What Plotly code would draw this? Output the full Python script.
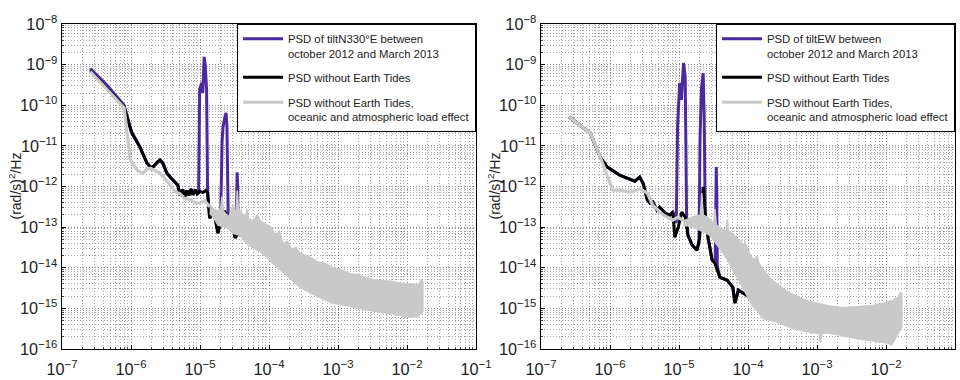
import numpy as np
import plotly.graph_objects as go

# ---------------------------------------------------------------------------
# Data, stored as log10(frequency [Hz]) and log10(PSD)
# ---------------------------------------------------------------------------

# ----- left panel : tilt N330°E -----
L_PURPLE_LOGF = [-6.59, -6.35, -6.10, -5.99, -5.87, -5.77, -5.70, -5.62, -5.58, -5.54, -5.48, -5.43,
                 -5.39, -5.32, -5.29, -5.25, -5.22, -5.19, -5.16, -5.13, -5.10, -5.07, -5.04,
                 -5.02, -5.005, -4.975, -4.96, -4.94, -4.925, -4.905, -4.89,
                 -4.86, -4.80, -4.74, -4.71,
                 -4.70, -4.68, -4.667, -4.64, -4.623, -4.61, -4.60,
                 -4.59, -4.53, -4.49,
                 -4.475, -4.468, -4.462, -4.455, -4.448,
                 -4.40, -4.32, -4.28, -4.23, -4.10, -3.90, -3.60, -3.30, -3.00, -2.50, -2.00, -1.77]
L_PURPLE_LOGP = [-9.10, -9.50, -10.00, -10.66, -11.03, -11.42, -11.55, -11.40, -11.35, -11.42, -11.67, -11.77,
                 -11.84, -11.97, -12.22, -12.08, -12.25, -12.10, -12.22, -12.06, -12.20, -12.08, -12.18,
                 -12.15, -9.6, -9.45, -9.7, -8.81, -9.0, -9.6, -12.15,
                 -12.78, -12.60, -13.15, -12.9,
                 -12.7, -10.9, -10.54, -10.3, -10.19, -10.5, -12.6,
                 -12.88, -12.85, -13.27,
                 -13.0, -11.7, -11.65, -11.9, -13.1,
                 -13.20, -13.00, -13.30, -13.47, -13.55, -13.80, -14.10, -14.35, -14.50, -14.70, -14.80, -14.75]

L_BLACK_LOGF = [-6.59, -6.35, -6.10, -5.99, -5.87, -5.77, -5.70, -5.62, -5.58, -5.54, -5.48, -5.43,
                -5.39, -5.32, -5.29, -5.25, -5.22, -5.19, -5.16, -5.13, -5.10, -5.07, -5.04,
                -5.00, -4.96, -4.92, -4.89, -4.86, -4.80, -4.74, -4.68, -4.64, -4.59, -4.53, -4.49,
                -4.45, -4.40, -4.32, -4.28, -4.23, -4.10, -3.90, -3.60, -3.30, -3.00, -2.50, -2.00, -1.77]
L_BLACK_LOGP = [-9.15, -9.58, -10.04, -10.68, -11.03, -11.42, -11.55, -11.40, -11.35, -11.42, -11.67, -11.77,
                -11.84, -11.97, -12.22, -12.08, -12.25, -12.10, -12.22, -12.06, -12.20, -12.08, -12.18,
                -12.12, -12.15, -12.10, -12.15, -12.78, -12.60, -13.15, -12.70, -12.60, -12.88, -12.85, -13.27,
                -13.15, -13.20, -13.00, -13.30, -13.47, -13.55, -13.80, -14.10, -14.35, -14.50, -14.70, -14.80, -14.75]

L_GRAY_LOGF = [-6.59, -6.35, -6.10, -6.01, -5.90, -5.83, -5.77, -5.72, -5.65, -5.58, -5.50, -5.43,
               -5.36, -5.29, -5.22, -5.14, -5.07, -5.00, -4.93, -4.86]
L_GRAY_LOGP = [-9.17, -9.60, -10.06, -11.35, -11.62, -11.67, -11.58, -11.55, -11.62, -11.67, -11.82, -11.97,
               -12.12, -12.18, -12.30, -12.32, -12.40, -12.41, -12.35, -12.50]

# dense high-frequency part of the grey spectrum: upper and lower envelope
L_BAND_UP_LOGF = [-4.86, -4.81, -4.74, -4.70, -4.68, -4.66, -4.64, -4.58, -4.52, -4.48, -4.46, -4.44,
                  -4.42, -4.34, -4.32, -4.30, -4.23, -4.17, -4.13, -4.08, -4.03, -3.97, -3.91, -3.85,
                  -3.80, -3.73, -3.67, -3.61, -3.55, -3.42, -3.30, -3.18, -3.07, -2.95, -2.83, -2.70,
                  -2.58, -2.46, -2.35, -2.22, -2.10, -1.96, -1.84, -1.79, -1.77]
L_BAND_UP_LOGP = [-12.45, -12.55, -12.6, -12.55, -12.25, -12.6, -12.65, -12.75, -12.45, -12.7, -12.1, -12.65,
                  -12.6, -12.75, -12.55, -12.8, -12.85, -12.7, -12.85, -12.9, -12.95, -13.0, -13.2, -13.1,
                  -13.4, -13.35, -13.55, -13.5, -13.65, -13.72, -13.85, -13.9, -14.0, -14.05, -14.15, -14.18,
                  -14.25, -14.3, -14.32, -14.33, -14.38, -14.4, -14.42, -14.3, -14.35]
L_BAND_LO_LOGF = [-4.86, -4.81, -4.74, -4.64, -4.58, -4.52, -4.42, -4.32, -4.23, -4.13, -4.03, -3.91,
                  -3.80, -3.67, -3.55, -3.42, -3.30, -3.18, -3.07, -2.95, -2.83, -2.70, -2.58, -2.46,
                  -2.35, -2.22, -2.10, -1.96, -1.84, -1.77]
L_BAND_LO_LOGP = [-12.65, -12.75, -12.95, -13.0, -13.05, -13.15, -13.2, -13.4, -13.5, -13.6, -13.74, -13.95,
                  -14.11, -14.3, -14.48, -14.6, -14.7, -14.8, -14.87, -14.92, -14.95, -15.0, -15.04, -15.08,
                  -15.1, -15.14, -15.17, -15.22, -15.2, -15.09]

# ----- right panel : tilt EW -----
R_PURPLE_LOGF = [-6.59, -6.29, -6.14, -6.04, -5.86, -5.71, -5.64, -5.57, -5.52, -5.46, -5.42, -5.38,
                 -5.32, -5.28, -5.20, -5.13, -5.09,
                 -5.04, -5.02, -4.99, -4.965, -4.935, -4.91, -4.89,
                 -4.87, -4.81, -4.74,
                 -4.71, -4.695, -4.675, -4.65, -4.635, -4.62,
                 -4.58, -4.52,
                 -4.475, -4.468, -4.46, -4.452, -4.445,
                 -4.41, -4.30, -4.22, -4.19, -4.14, -4.00, -3.80, -3.50, -3.00, -2.50, -2.00, -1.77]
R_PURPLE_LOGP = [-10.29, -10.68, -11.28, -11.52, -11.72, -11.82, -11.87, -11.77, -11.92, -12.33, -12.41, -12.38,
                 -12.58, -12.51, -12.66, -12.70, -12.63,
                 -12.9, -10.5, -9.45, -9.87, -8.96, -9.3, -12.75,
                 -13.20, -13.44, -13.57,
                 -13.4, -10.8, -9.6, -9.21, -10.3, -12.66,
                 -13.25, -13.81,
                 -13.85, -12.5, -11.52, -12.3, -13.95,
                 -14.23, -14.31, -14.48, -14.87, -14.55, -14.70, -14.90, -15.00, -15.20, -15.30, -15.30, -15.10]

R_BLACK_LOGF = [-6.59, -6.29, -6.14, -6.04, -5.86, -5.71, -5.64, -5.57, -5.52, -5.46, -5.42, -5.38,
                -5.32, -5.28, -5.20, -5.13, -5.09, -5.06, -5.01, -4.96, -4.91, -4.87, -4.81, -4.74,
                -4.70, -4.65, -4.62, -4.58, -4.52, -4.48, -4.41, -4.30, -4.22, -4.19, -4.14, -4.00,
                -3.80, -3.50, -3.00, -2.50, -2.00, -1.77]
R_BLACK_LOGP = [-10.29, -10.68, -11.28, -11.52, -11.72, -11.82, -11.87, -11.77, -11.92, -12.33, -12.41, -12.38,
                -12.58, -12.51, -12.66, -12.70, -12.63, -13.25, -13.00, -12.63, -12.75, -13.20, -13.44, -13.57,
                -13.25, -12.01, -12.66, -13.25, -13.81, -13.89, -14.23, -14.31, -14.48, -14.87, -14.55, -14.70,
                -14.90, -15.00, -15.20, -15.30, -15.30, -15.10]

R_GRAY_LOGF = [-6.59, -6.29, -6.17, -6.04, -5.96, -5.86, -5.71, -5.57, -5.46, -5.38, -5.23, -5.09, -5.01, -4.94]
R_GRAY_LOGP = [-10.29, -10.68, -11.15, -11.75, -12.09, -12.09, -12.14, -12.06, -12.16, -12.46, -12.70, -12.83,
               -12.75, -12.85]

R_BAND_UP_LOGF = [-4.94, -4.80, -4.69, -4.67, -4.65, -4.60, -4.50, -4.48, -4.46, -4.42, -4.32, -4.30,
                  -4.28, -4.23, -4.15, -4.06, -4.04, -4.02, -3.95, -3.89, -3.87, -3.85, -3.78, -3.66,
                  -3.54, -3.42, -3.29, -3.17, -3.06, -2.93, -2.80, -2.68, -2.57, -2.43, -2.30, -2.20,
                  -2.09, -1.98, -1.90, -1.82, -1.79, -1.77]
R_BAND_UP_LOGP = [-12.85, -12.75, -12.7, -12.16, -12.7, -12.75, -12.9, -12.55, -12.95, -13.0, -13.1, -12.8,
                  -13.1, -13.15, -13.3, -13.45, -13.35, -13.5, -13.75, -13.8, -13.7, -13.85, -14.05, -14.3,
                  -14.45, -14.6, -14.7, -14.8, -14.85, -14.9, -14.95, -14.97, -14.98, -14.96, -14.95, -14.93,
                  -14.9, -14.85, -14.8, -14.72, -14.6, -14.65]
R_BAND_LO_LOGF = [-4.94, -4.80, -4.67, -4.55, -4.42, -4.30, -4.15, -4.04, -3.95, -3.87, -3.78, -3.66,
                  -3.54, -3.42, -3.29, -3.17, -3.06, -2.97, -2.95, -2.93, -2.85, -2.70, -2.57, -2.43,
                  -2.30, -2.20, -2.09, -1.98, -1.92, -1.85, -1.77]
R_BAND_LO_LOGP = [-12.95, -13.0, -13.1, -13.2, -13.5, -13.8, -14.25, -14.6, -14.9, -15.05, -15.25, -15.3,
                  -15.36, -15.45, -15.52, -15.56, -15.6, -15.62, -15.85, -15.62, -15.6, -15.65, -15.7, -15.74,
                  -15.78, -15.8, -15.83, -15.85, -15.9, -15.7, -15.45]

# axis ranges (decades) and texts
X_RANGE = [-7, -1]
Y_RANGE = [-16, -8]
L_NAMES = ["PSD of tiltN330°E between<br>october 2012 and March 2013",
           "PSD without Earth Tides",
           "PSD without Earth Tides,<br>oceanic and atmospheric load effect"]
R_NAMES = ["PSD of tiltEW between<br>october 2012 and March 2013",
           "PSD without Earth Tides",
           "PSD without Earth Tides,<br>oceanic and atmospheric load effect"]
Y_TITLE = "(rad/s)<sup>2</sup>/Hz"
X_TITLE = "Hz"

# ---------------------------------------------------------------------------
PURPLE = "#4b2a9e"
BLACK = "#000000"
GRAY = "#c9c9c9"
FONT = "Liberation Sans, Arial, Helvetica, sans-serif"
TXT = "#222222"


def p10(a):
    return (10.0 ** np.asarray(a, dtype=float)).tolist()


fig = go.Figure()


def add_panel(xa, ya, leg, names, pf, pp, bf, bp, gf, gp, uf, up, lf, lp):
    fig.add_trace(go.Scatter(x=p10(pf), y=p10(pp), mode="lines", name=names[0],
                             line=dict(color=PURPLE, width=3), xaxis=xa, yaxis=ya,
                             legend=leg, legendgroup=leg + "a"))
    fig.add_trace(go.Scatter(x=p10(bf), y=p10(bp), mode="lines", name=names[1],
                             line=dict(color=BLACK, width=3), xaxis=xa, yaxis=ya,
                             legend=leg, legendgroup=leg + "b"))
    fig.add_trace(go.Scatter(x=p10(gf), y=p10(gp), mode="lines", name=names[2],
                             line=dict(color=GRAY, width=3.2), xaxis=xa, yaxis=ya,
                             legend=leg, legendgroup=leg + "c"))
    fig.add_trace(go.Scatter(x=p10(list(uf) + list(lf)[::-1]), y=p10(list(up) + list(lp)[::-1]),
                             mode="lines", fill="toself", fillcolor=GRAY,
                             line=dict(color=GRAY, width=1.5), xaxis=xa, yaxis=ya,
                             showlegend=False, legend=leg, legendgroup=leg + "c", hoverinfo="skip"))


add_panel("x", "y", "legend", L_NAMES, L_PURPLE_LOGF, L_PURPLE_LOGP, L_BLACK_LOGF, L_BLACK_LOGP,
          L_GRAY_LOGF, L_GRAY_LOGP, L_BAND_UP_LOGF, L_BAND_UP_LOGP, L_BAND_LO_LOGF, L_BAND_LO_LOGP)
add_panel("x2", "y2", "legend2", R_NAMES, R_PURPLE_LOGF, R_PURPLE_LOGP, R_BLACK_LOGF, R_BLACK_LOGP,
          R_GRAY_LOGF, R_GRAY_LOGP, R_BAND_UP_LOGF, R_BAND_UP_LOGP, R_BAND_LO_LOGF, R_BAND_LO_LOGP)

ML, MR, MT, MB = 62, 5, 24, 31
PLOT_W = 960 - ML - MR
PLOT_H = 380 - MT - MB
D_LEFT = [0.0, 414 / PLOT_W]
D_RIGHT = [(541 - ML) / PLOT_W, 1.0]

GRID_DASH = "1px,2px"


def common_axis(standoff):
    return dict(type="log", dtick=1, exponentformat="power",
                showline=True, linecolor="black", linewidth=1, mirror=True,
                ticks="inside", ticklen=4, tickcolor="black", ticklabelstandoff=standoff,
                showgrid=True, gridcolor="#8f8f8f", griddash=GRID_DASH, gridwidth=1,
                minor=dict(dtick="D1", ticks="inside", ticklen=2, tickcolor="#444",
                           showgrid=True, gridcolor="#a8a8a8", griddash=GRID_DASH, gridwidth=1),
                tickfont=dict(size=13, color=TXT, family=FONT),
                zeroline=False, automargin=False)


xa1 = common_axis(6); xa1.update(range=X_RANGE, domain=D_LEFT, anchor="y")
xa2 = common_axis(6); xa2.update(range=X_RANGE, domain=D_RIGHT, anchor="y2")
ya1 = common_axis(1); ya1.update(range=Y_RANGE, domain=[0, 1], anchor="x")
ya2 = common_axis(1); ya2.update(range=Y_RANGE, domain=[0, 1], anchor="x2")


def legend_box(xright):
    return dict(x=xright, xanchor="right", y=1, yanchor="top", xref="paper", yref="paper",
                bgcolor="white", bordercolor="black", borderwidth=1,
                font=dict(size=11.3, color=TXT, family=FONT), valign="top",
                tracegroupgap=6, itemwidth=40)


def px_x(px):  # page pixel -> paper x
    return (px - ML) / PLOT_W


def px_y(py):  # page pixel -> paper y
    return (380 - MB - py) / PLOT_H


annotations = []
for dom in (D_LEFT, D_RIGHT):
    annotations.append(dict(text=X_TITLE, x=sum(dom) / 2, y=px_y(376), xref="paper", yref="paper",
                            xanchor="center", yanchor="top", showarrow=False,
                            font=dict(size=14, color=TXT, family=FONT)))
for cx in (15, 494):
    annotations.append(dict(text=Y_TITLE, x=px_x(cx), y=0.5, xref="paper", yref="paper",
                            xanchor="center", yanchor="middle", textangle=-90, showarrow=False,
                            font=dict(size=14, color=TXT, family=FONT)))

fig.update_layout(
    width=960, height=380,
    margin=dict(l=ML, r=MR, t=MT, b=MB, autoexpand=False),
    paper_bgcolor="white", plot_bgcolor="white",
    font=dict(family=FONT, size=13, color=TXT),
    xaxis=xa1, yaxis=ya1, xaxis2=xa2, yaxis2=ya2,
    legend=legend_box(D_LEFT[1]), legend2=legend_box(1.0),
    showlegend=True,
    annotations=annotations,
)

fig.write_html("out.html", config={"displayModeBar": False},
               post_script="document.body.style.margin='0px';document.body.style.overflow='hidden';")
